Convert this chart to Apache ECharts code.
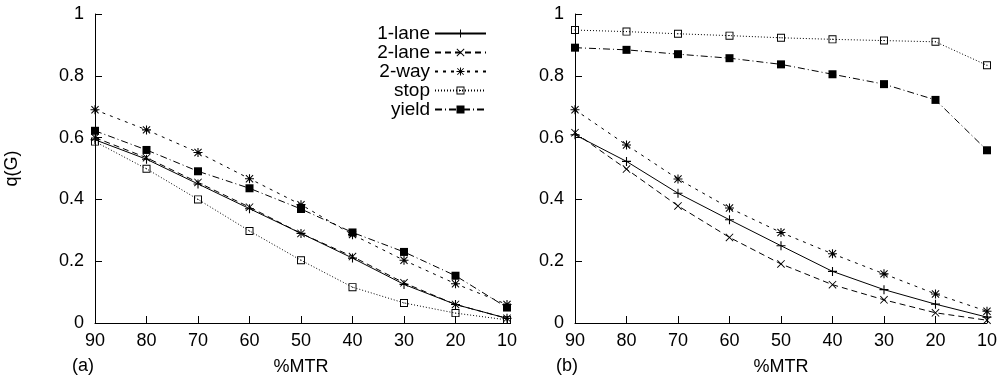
<!DOCTYPE html>
<html>
<head>
<meta charset="utf-8">
<script src="https://cdn.jsdelivr.net/npm/echarts@6/dist/echarts.min.js"></script>
<style>
  html, body { margin: 0; padding: 0; background: #fff; }
  #chart { width: 1000px; height: 383px; }
</style>
</head>
<body>
<div id="chart"></div>
<script>
const categories = ['90', '80', '70', '60', '50', '40', '30', '20', '10']
const seriesNames = ['1-lane', '2-lane', '2-way', 'stop', 'yield']

// panel (a)
const a1Lane = [0.593, 0.53, 0.45, 0.37, 0.29, 0.21, 0.125, 0.06, 0.015]
const a2Lane = [0.60, 0.535, 0.455, 0.375, 0.29, 0.215, 0.13, 0.06, 0.015]
const a2Way = [0.69, 0.625, 0.552, 0.467, 0.383, 0.286, 0.203, 0.127, 0.06]
const aStop = [0.587, 0.499, 0.40, 0.298, 0.203, 0.116, 0.065, 0.032, 0.01]
const aYield = [0.622, 0.56, 0.491, 0.436, 0.369, 0.293, 0.23, 0.153, 0.05]

// panel (b)
const b1Lane = [0.609, 0.523, 0.42, 0.334, 0.25, 0.167, 0.108, 0.061, 0.019]
const b2Lane = [0.616, 0.498, 0.379, 0.277, 0.191, 0.124, 0.075, 0.033, 0.009]
const b2Way = [0.69, 0.576, 0.466, 0.372, 0.293, 0.224, 0.159, 0.094, 0.038]
const bStop = [0.948, 0.943, 0.936, 0.93, 0.923, 0.918, 0.914, 0.91, 0.834]
const bYield = [0.891, 0.884, 0.87, 0.857, 0.837, 0.805, 0.773, 0.722, 0.559]

const yTicks = [0, 0.2, 0.4, 0.6, 0.8, 1]

const FONT = 'Liberation Sans'
const INK = '#000'

const SYMBOLS = {
  plus: 'path://M4.4,0H5.6V10H4.4ZM0,4.4H10V5.6H0Z',
  cross: 'path://M0,0.8L0.8,0L10,9.2L9.2,10ZM9.2,0L10,0.8L0.8,10L0,9.2Z',
  star: 'path://M4.4,0H5.6V10H4.4ZM0,4.4H10V5.6H0ZM0.6,1.4L1.4,0.6L9.4,8.6L8.6,9.4ZM8.6,0.6L9.4,1.4L1.4,9.4L0.6,8.6Z',
  openSquare: 'path://M0,0H10V10H0ZM1.2,1.2V8.8H8.8V1.2ZM4.4,4.4H5.6V5.6H4.4Z',
}

const styleFor = {
  '1-lane': { symbol: SYMBOLS.plus, symbolSize: 9, dash: 'solid' },
  '2-lane': { symbol: SYMBOLS.cross, symbolSize: 8, dash: [6, 4] },
  '2-way': { symbol: SYMBOLS.star, symbolSize: 9, dash: [3, 5] },
  'stop': { symbol: SYMBOLS.openSquare, symbolSize: 8, dash: [1, 2] },
  'yield': { symbol: 'rect', symbolSize: 8, dash: [7, 3, 1, 3] },
}

function makeSeries(name, data, idx) {
  const s = styleFor[name]
  return {
    name: name,
    type: 'line',
    xAxisIndex: idx,
    yAxisIndex: idx,
    data: data,
    symbol: s.symbol,
    symbolSize: s.symbolSize,
    showAllSymbol: true,
    animation: false,
    itemStyle: { color: INK },
    lineStyle: { color: INK, width: 1, type: s.dash },
    emphasis: { disabled: true },
  }
}

function xAxisFor(idx) {
  return {
    type: 'category',
    gridIndex: idx,
    data: categories,
    boundaryGap: false,
    name: '%MTR',
    nameLocation: 'middle',
    nameGap: 35,
    nameTextStyle: { fontFamily: FONT, fontSize: 18, color: INK },
    axisLine: { lineStyle: { color: INK, width: 1 } },
    axisTick: { inside: true, length: 7, alignWithLabel: true, lineStyle: { color: INK } },
    axisLabel: { fontFamily: FONT, fontSize: 18, color: INK, margin: 9, interval: 0 },
    splitLine: { show: false },
  }
}

function yAxisFor(idx) {
  return {
    type: 'value',
    gridIndex: idx,
    min: 0,
    max: 1,
    interval: 0.2,
    name: idx === 0 ? 'q(G)' : '',
    nameLocation: 'middle',
    nameGap: 74,
    nameTextStyle: { fontFamily: FONT, fontSize: 18, color: INK },
    axisLine: { show: true, lineStyle: { color: INK, width: 1 } },
    axisTick: { show: true, inside: true, length: 7, lineStyle: { color: INK } },
    axisLabel: {
      fontFamily: FONT, fontSize: 18, color: INK, margin: 11,
      formatter: v => yTicks.includes(+v.toFixed(1)) ? String(+v.toFixed(1)) : '',
    },
    splitLine: { show: false },
  }
}

const chart = echarts.init(document.getElementById('chart'), null, { renderer: 'canvas' })

chart.setOption({
  backgroundColor: '#fff',
  animation: false,
  grid: [
    { left: 95, right: 493, top: 14, bottom: 60 },
    { left: 575, right: 12, top: 14, bottom: 60 },
  ],
  legend: {
    data: seriesNames,
    orient: 'vertical',
    align: 'right',
    right: 508,
    top: 19,
    itemWidth: 51,
    itemHeight: 10,
    itemGap: 0,
    textStyle: { fontFamily: FONT, fontSize: 19, color: INK },
    selectedMode: false,
  },
  xAxis: [xAxisFor(0), xAxisFor(1)],
  yAxis: [yAxisFor(0), yAxisFor(1)],
  graphic: [
    { type: 'text', left: 72, top: 357, style: { text: '(a)', font: '18px "Liberation Sans"', fill: INK } },
    { type: 'text', left: 556, top: 357, style: { text: '(b)', font: '18px "Liberation Sans"', fill: INK } },
  ],
  series: [
    makeSeries('1-lane', a1Lane, 0),
    makeSeries('2-lane', a2Lane, 0),
    makeSeries('2-way', a2Way, 0),
    makeSeries('stop', aStop, 0),
    makeSeries('yield', aYield, 0),
    makeSeries('1-lane', b1Lane, 1),
    makeSeries('2-lane', b2Lane, 1),
    makeSeries('2-way', b2Way, 1),
    makeSeries('stop', bStop, 1),
    makeSeries('yield', bYield, 1),
  ],
})
</script>
</body>
</html>
